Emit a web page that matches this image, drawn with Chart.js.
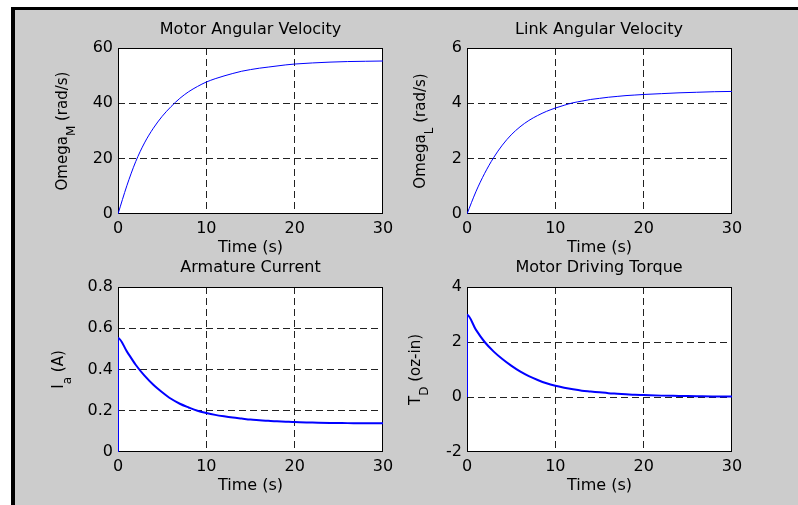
<!DOCTYPE html>
<html>
<head>
<meta charset="utf-8">
<script src="https://cdn.jsdelivr.net/npm/chart.js@4.4.1/dist/chart.umd.min.js"></script>
<style>
  html, body { margin: 0; padding: 0; background: #fff; overflow: hidden; }
  #frame { position: absolute; left: 11px; top: 7px; width: 783px; height: 495px;
           border-left: 4px solid #000; border-top: 3px solid #000; background: #cccccc; }
  canvas { position: absolute; }
</style>
</head>
<body>
<div id="frame"></div>
<canvas id="motorVel" width="471" height="252" style="left:15px;top:10px"></canvas>
<canvas id="linkVel" width="398" height="252" style="left:400px;top:10px"></canvas>
<canvas id="current" width="471" height="250" style="left:15px;top:255px"></canvas>
<canvas id="torque" width="398" height="250" style="left:400px;top:255px"></canvas>
<script>
// time samples (s)
const timeTop = [0,1,2,3,4,5,6,7,8,9,10,11,12,13,14,15,16,17,18,19,20,22,24,26,28,30];
const timeBottom = [0,0,1,2,3,4,5,6,7,8,9,10,11,12,13,14,15,16,17,18,19,20,22,24,26,28,30];

// Omega_M (rad/s)
const omegaM = [0,10.2,18.9,25.7,31,35.3,38.8,41.8,44.2,46.1,47.7,48.9,49.9,50.8,51.6,52.2,52.7,53.1,53.5,53.9,54.2,54.6,54.9,55.1,55.2,55.3];
// Omega_L (rad/s)
const omegaL = [0,0.8,1.47,2.03,2.49,2.86,3.15,3.38,3.56,3.71,3.83,3.93,4.02,4.08,4.14,4.18,4.22,4.25,4.28,4.3,4.32,4.35,4.38,4.4,4.42,4.43];
// I_a (A)
const currentA = [0,0.553,0.488,0.423,0.37,0.326,0.29,0.258,0.234,0.216,0.2,0.189,0.18,0.173,0.167,0.162,0.157,0.154,0.151,0.149,0.147,0.145,0.143,0.141,0.14,0.139,0.139];
// T_D (oz-in)
const torqueD = [0,2.99,2.45,2.0,1.66,1.38,1.14,0.93,0.76,0.62,0.5,0.41,0.34,0.28,0.23,0.2,0.17,0.14,0.12,0.1,0.08,0.07,0.05,0.04,0.03,0.02,0.02];

const FONT = 'DejaVu Sans';
Chart.defaults.font.family = FONT;
Chart.defaults.font.size = 16;
Chart.defaults.color = '#000';

const framePlugin = {
  id: 'frame',
  beforeDraw(chart) {
    const a = chart.chartArea, ctx = chart.ctx;
    ctx.save();
    ctx.fillStyle = '#fff';
    ctx.fillRect(a.left, a.top, a.right - a.left, a.bottom - a.top);
    ctx.restore();
  },
  beforeDatasetsDraw(chart) {
    const a = chart.chartArea, ctx = chart.ctx;
    ctx.save();
    ctx.strokeStyle = '#000';
    ctx.lineWidth = 1;
    ctx.strokeRect(Math.round(a.left) + 0.5, Math.round(a.top) + 0.5,
                   Math.round(a.right - a.left) - 1, Math.round(a.bottom - a.top) - 1);
    ctx.restore();
  }
};

// y axis title with a subscript part
const yLabelPlugin = {
  id: 'yLabel',
  afterDraw(chart, args, o) {
    const a = chart.chartArea, ctx = chart.ctx;
    const big = '15px "' + FONT + '"', small = '12px "' + FONT + '"';
    ctx.save();
    ctx.translate(a.left - o.offset, (a.top + a.bottom) / 2);
    ctx.rotate(-Math.PI / 2);
    ctx.fillStyle = '#000';
    ctx.textAlign = 'left';
    ctx.textBaseline = 'alphabetic';
    ctx.font = big;
    const w1 = ctx.measureText(o.main).width, w3 = ctx.measureText(o.rest).width;
    ctx.font = small;
    const w2 = ctx.measureText(o.sub).width;
    let x = -(w1 + w2 + w3) / 2;
    ctx.font = big; ctx.fillText(o.main, x, 0); x += w1;
    ctx.font = small; ctx.fillText(o.sub, x, 8); x += w2;
    ctx.font = big; ctx.fillText(o.rest, x, 0);
    ctx.restore();
  }
};

function gridColor(c) {
  if (!c.tick) return '#222';
  return (c.tick.value === c.scale.min || c.tick.value === c.scale.max) ? 'rgba(0,0,0,0)' : '#222';
}

function makeChart(id, xs, ys, o) {
  const points = xs.map((x, i) => ({ x: x, y: ys[i] }));
  return new Chart(document.getElementById(id), {
    type: 'line',
    data: {
      datasets: [{
        data: points,
        borderColor: '#0000ff',
        borderWidth: o.lineWidth,
        pointRadius: 0,
        cubicInterpolationMode: 'monotone',
        fill: false
      }]
    },
    options: {
      responsive: false,
      animation: false,
      devicePixelRatio: 1,
      layout: { padding: 0 },
      plugins: {
        legend: { display: false },
        tooltip: { enabled: false },
        title: {
          display: true,
          text: o.title,
          color: '#000',
          font: { size: 16, weight: 'normal' },
          padding: o.titlePad
        },
        yLabel: o.yLabel
      },
      scales: {
        x: {
          type: 'linear',
          min: 0, max: 30,
          afterFit: s => { s.height = o.xHeight; },
          ticks: { stepSize: 10, padding: 5, maxRotation: 0, color: '#000' },
          grid: { color: gridColor, drawTicks: false, lineWidth: 1 },
          border: { display: false, dash: [7, 4] },
          title: { display: true, text: 'Time (s)', color: '#000', font: { size: 16 }, padding: { top: 0, bottom: o.xTitlePad } }
        },
        y: {
          min: o.yMin, max: o.yMax,
          afterFit: s => { s.width = o.left; },
          ticks: { stepSize: o.yStep, padding: 5, color: '#000' },
          grid: { color: gridColor, drawTicks: false, lineWidth: 1 },
          border: { display: false, dash: [7, 4] }
        },
        // empty right-hand axis, same width as the left one, so the title sits over the plot box
        yRight: {
          position: 'right',
          ticks: { display: false },
          grid: { display: false },
          border: { display: false },
          afterFit: s => { s.width = o.right; }
        }
      }
    },
    plugins: [framePlugin, yLabelPlugin]
  });
}

makeChart('motorVel', timeTop, omegaM, {
  title: 'Motor Angular Velocity', lineWidth: 1,
  yMin: 0, yMax: 60, yStep: 20, left: 103, right: 103,
  xHeight: 48, xTitlePad: 4.4, titlePad: { top: 10.4, bottom: 8.4 },
  yLabel: { main: 'Omega', sub: 'M', rest: ' (rad/s)', offset: 51 }
});
makeChart('linkVel', timeTop, omegaL, {
  title: 'Link Angular Velocity', lineWidth: 1,
  yMin: 0, yMax: 6, yStep: 2, left: 67, right: 66,
  xHeight: 48, xTitlePad: 4.4, titlePad: { top: 10.4, bottom: 8.4 },
  yLabel: { main: 'Omega', sub: 'L', rest: ' (rad/s)', offset: 42 }
});
makeChart('current', timeBottom, currentA, {
  title: 'Armature Current', lineWidth: 2,
  yMin: 0, yMax: 0.8, yStep: 0.2, left: 103, right: 103,
  xHeight: 53, xTitlePad: 9.4, titlePad: { top: 3.4, bottom: 9.4 },
  yLabel: { main: 'I', sub: 'a', rest: ' (A)', offset: 55 }
});
makeChart('torque', timeBottom, torqueD, {
  title: 'Motor Driving Torque', lineWidth: 2,
  yMin: -2, yMax: 4, yStep: 2, left: 67, right: 66,
  xHeight: 53, xTitlePad: 9.4, titlePad: { top: 3.4, bottom: 9.4 },
  yLabel: { main: 'T', sub: 'D', rest: ' (oz-in)', offset: 47 }
});
</script>
</body>
</html>
